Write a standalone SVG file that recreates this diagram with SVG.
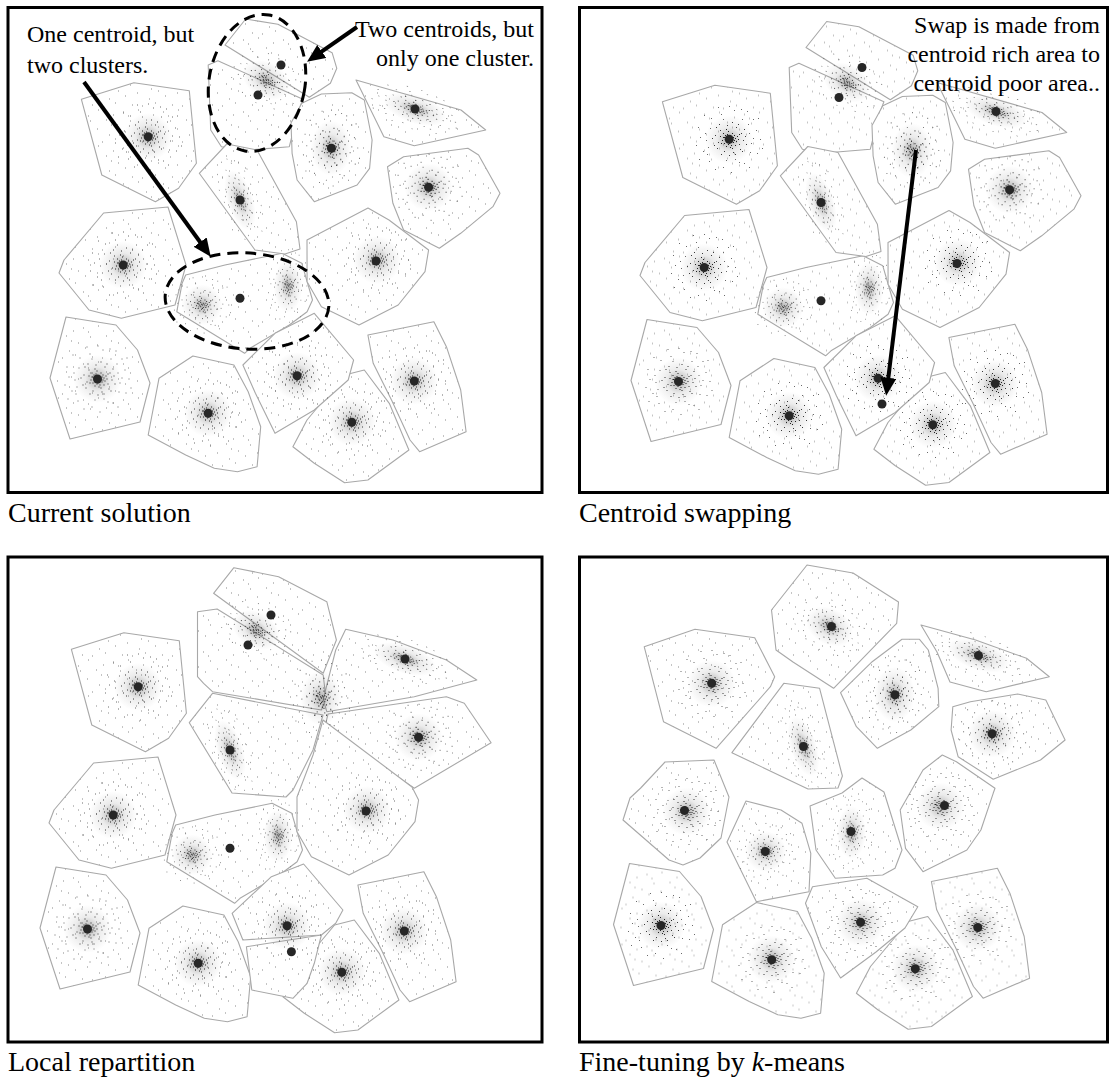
<svg xmlns="http://www.w3.org/2000/svg" xmlns:xlink="http://www.w3.org/1999/xlink" width="1110" height="1079" viewBox="0 0 1110 1079">
<style>
.frame{fill:#fff;stroke:#000;stroke-width:3}
.cell{fill:url(#speckle);stroke:#a8a8a8;stroke-width:1.1;stroke-linejoin:round}
.cen{fill:#262626}
.note{font-family:"Liberation Serif","Times New Roman",serif;font-size:24px;fill:#000}
.cap{font-family:"Liberation Serif","Times New Roman",serif;font-size:28px;fill:#000}
.ring{fill:none;stroke:#000;stroke-width:3;stroke-dasharray:11 7}
.arrow{fill:none;stroke:#000;stroke-width:4;marker-end:url(#head)}
</style>
<defs>
  <!-- sparse background points inside every region -->
  <pattern id="speckle" patternUnits="userSpaceOnUse" width="40" height="36">
    <rect width="40" height="36" fill="#fff"/>
    <path d="M3 4h1M18 2h1M33 7h1M10 13h1M26 12h1M38 19h1M5 24h1M17 21h1M29 27h1M12 33h1M35 31h1M22 34h1M31 17h1M8 8h1" stroke="#8a8a8a" stroke-width="1"/>
  </pattern>
  <radialGradient id="core">
    <stop offset="0" stop-color="#3a3a3a" stop-opacity=".4"/>
    <stop offset=".5" stop-color="#3a3a3a" stop-opacity=".1"/>
    <stop offset="1" stop-color="#3a3a3a" stop-opacity="0"/>
  </radialGradient>
  <marker id="head" markerUnits="userSpaceOnUse" markerWidth="20" markerHeight="16" refX="6" refY="8" orient="auto" viewBox="0 0 20 16">
    <path d="M0,0 L18,8 L0,16 z" fill="#000"/>
  </marker>

  <!-- one gaussian-like cloud of points, centred on 0,0 -->
  <g id="blob">
    <circle r="24" fill="url(#core)"/>
    <path stroke="#222" stroke-width="1.2" d="M1 -2h1M-3 1h1M4 3h1M-2 -5h1M6 -1h1M-5 4h1M2 6h1M-6 -2h1M3 -6h1M0 4h1M-4 -4h1M7 2h1M-1 -8h1M5 -4h1M-7 1h1M2 -1h1M-2 2h1M8 -3h1M-3 7h1M1 8h1M0 0h1M-1 -1h1M3 1h1M-4 -1h1M1 3h1M-2 -3h1M5 1h1M-1 5h1M4 -2h1M-5 -2h1M-8 4h1M9 0h1M-6 -6h1M6 6h1M-9 -3h1M3 9h1M-3 -10h1M10 -5h1"/>
    <path stroke="#3a3a3a" stroke-width="1.1" d="M10 5h1M-11 3h1M12 -6h1M-9 -9h1M4 13h1M-5 12h1M14 1h1M-14 -4h1M7 -12h1M-2 -14h1M11 10h1M-12 9h1M16 -3h1M-15 6h1M9 -15h1M-8 15h1M13 12h1M-13 -12h1M17 5h1M-17 -1h1M0 16h1M3 -17h1M15 -10h1M-10 -15h1M6 15h1"/>
    <path stroke="#6a6a6a" stroke-width="1" d="M22 4h1M-21 8h1M19 -15h1M-24 -6h1M10 23h1M-8 -25h1M27 -9h1M-26 12h1M15 24h1M-18 -21h1M28 14h1M-29 -2h1M5 -29h1M-6 28h1M24 -20h1M-20 22h1M31 0h1M-31 -12h1M12 -30h1M-14 30h1M33 9h1M-33 6h1M20 28h1M-25 -24h1M0 -33h1M2 33h1M29 -21h1M-30 20h1M18 -28h1M-11 -32h1M20 -6h1M-19 -11h1M6 20h1M-3 21h1M21 13h1M-22 15h1M13 -20h1M-6 -20h1M24 -1h1M-23 1h1"/>
  </g>

  <!-- regions of the starting solution (coordinates of the first panel) -->
  <g id="cellsLow">
    <polygon class="cell" points="66,317 116,325 137.5,350 150,383 140,422 70,439 50,378"/>
    <polygon class="cell" points="159,378.3 192.9,356 233.9,365 248.2,391.7 260.7,426.7 257.1,466.7 237.5,471.7 214.3,468.3 185.7,455 148.2,435"/>
    <polygon class="cell" points="292.9,446.7 307,420 344.6,375 364.3,370 389.3,403.3 408.9,450 367.9,480 344.6,482.7 314.3,463.3"/>
    <polygon class="cell" points="367.9,335 433.9,321.7 446.4,346.7 460.7,390 466.1,431.7 419.6,451.7 410,440 392,401 373.2,363.3"/>
  </g>
  <g id="cellsMid">
    <polygon class="cell" points="81.4,99.3 133.9,82.7 189.3,90.7 196.4,163.3 178.6,188.3 155.4,201.7 101.8,175"/>
    <polygon class="cell" points="59,273 64,260 103.6,213 168,207 186,265 175,305 121.4,318.3 89,310"/>
    <polygon class="cell" points="185.7,275 225,265 282.1,253.3 301.8,263.3 312.5,300 307.1,311.7 289.3,325 250,348.3 244.6,353.3 176.8,311.7 182.1,283.3"/>
  </g>
  <g id="cellsTop">
    <polygon class="cell" points="245.7,19 277.9,24.3 332.1,52.7 336.8,68.3 330.4,83.3 309.3,97.3 225,45"/>
    <polygon class="cell" points="208.2,65 217.9,60.7 302.9,99.3 298.2,111.7 289.3,146.7 250,150 221.4,146.7 210.7,130"/>
    <polygon class="cell" points="199.3,173.3 226.8,144 257,150 296.4,221.7 300,249 285,254 255,250"/>
    <polygon class="cell" points="291,123 301.8,103.3 321.4,94 351.8,92.7 364.3,100 372.1,140 369.6,168.3 357.1,185 314.3,201.7 297.1,180 292.1,153.3"/>
    <polygon class="cell" points="356,80 461,110 485.7,130 414.3,145.7 383.9,136.7"/>
    <polygon class="cell" points="387.5,166.7 403.6,156.7 467.9,148.3 478.6,155 500,193.3 492.9,206.7 460.7,233.3 439.3,248.3 403.6,230 392.9,203.3"/>
    <polygon class="cell" points="307,240 368,208 389,220 428.6,250 425,271.7 398.2,305 359,325 321.4,306.7 307.1,281.7"/>
    <polygon class="cell" points="242.9,365 275,333.3 314.3,313.3 353.6,360 348.2,380 314.3,410 275,433.3 255.4,393.3"/>
  </g>

  <!-- the fifteen point clouds -->
  <g id="blobs">
    <use xlink:href="#blob" href="#blob" transform="translate(266 80) rotate(30) scale(1.05 .75)"/>
    <use xlink:href="#blob" href="#blob" transform="translate(148 137)"/>
    <use xlink:href="#blob" href="#blob" transform="translate(123 265)"/>
    <use xlink:href="#blob" href="#blob" transform="translate(240 200) rotate(-18) scale(.55 1.3)"/>
    <use xlink:href="#blob" href="#blob" transform="translate(331 148) scale(.85 1.15)"/>
    <use xlink:href="#blob" href="#blob" transform="translate(415 109) rotate(18) scale(1.35 .6)"/>
    <use xlink:href="#blob" href="#blob" transform="translate(428.6 187.3)"/>
    <use xlink:href="#blob" href="#blob" transform="translate(377 260)"/>
    <use xlink:href="#blob" href="#blob" transform="translate(202 305) scale(.85)"/>
    <use xlink:href="#blob" href="#blob" transform="translate(288 286) scale(.6 1.1)"/>
    <use xlink:href="#blob" href="#blob" transform="translate(97.5 379)"/>
    <use xlink:href="#blob" href="#blob" transform="translate(208 413)"/>
    <use xlink:href="#blob" href="#blob" transform="translate(297 376)"/>
    <use xlink:href="#blob" href="#blob" transform="translate(352 422)"/>
    <use xlink:href="#blob" href="#blob" transform="translate(414 381)"/>
  </g>

  <!-- centroids shared by the first three panels -->
  <g id="censBase" class="cen">
    <circle cx="281" cy="65" r="4.5"/>
    <circle cx="258" cy="95" r="4.5"/>
    <circle cx="148.2" cy="136.7" r="4.5"/>
    <circle cx="123.2" cy="265" r="4.5"/>
    <circle cx="240" cy="200" r="4.5"/>
    <circle cx="415" cy="109" r="4.5"/>
    <circle cx="428.6" cy="187.3" r="4.5"/>
    <circle cx="376" cy="261" r="4.5"/>
    <circle cx="240" cy="298.3" r="4.5"/>
    <circle cx="97.5" cy="379" r="4.5"/>
    <circle cx="208.2" cy="413.3" r="4.5"/>
    <circle cx="297.1" cy="375.7" r="4.5"/>
    <circle cx="351.8" cy="422.3" r="4.5"/>
    <circle cx="414.3" cy="381" r="4.5"/>
  </g>
</defs>

<!-- Panel 1: current solution -->
<g id="panel-current">
  <rect class="frame" x="8" y="7.5" width="534" height="485"/>
  <use xlink:href="#cellsLow" href="#cellsLow"/>
  <use xlink:href="#cellsMid" href="#cellsMid"/>
  <use xlink:href="#cellsTop" href="#cellsTop"/>
  <use xlink:href="#blobs" href="#blobs"/>
  <use xlink:href="#censBase" href="#censBase"/>
  <circle class="cen" cx="331.4" cy="148.3" r="4.5"/>
  <ellipse class="ring" cx="257" cy="83" rx="48" ry="69" transform="rotate(10 257 83)"/>
  <ellipse class="ring" cx="247" cy="301" rx="82" ry="48" transform="rotate(4 247 301)"/>
  <text class="note" x="27" y="42">One centroid, but</text>
  <text class="note" x="27" y="73">two clusters.</text>
  <text class="note" x="534" y="37" text-anchor="end">Two centroids, but</text>
  <text class="note" x="534" y="66" text-anchor="end">only one cluster.</text>
  <g id="connectors-current">
    <path class="arrow" d="M84 82 L203.7 247"/>
    <path class="arrow" d="M357 27 L316.9 54.9"/>
  </g>
  <text class="cap" x="8" y="522">Current solution</text>
</g>

<!-- Panel 2: centroid swapping -->
<g id="panel-swap">
  <rect class="frame" x="579.5" y="7.5" width="528" height="485"/>
  <g transform="translate(581 2.5)">
    <use xlink:href="#cellsLow" href="#cellsLow"/>
    <use xlink:href="#cellsMid" href="#cellsMid"/>
    <use xlink:href="#cellsTop" href="#cellsTop"/>
    <use xlink:href="#blobs" href="#blobs"/>
    <use xlink:href="#censBase" href="#censBase"/>
    <circle class="cen" cx="301" cy="401.5" r="4.5"/>
  </g>
  <text class="note" x="1100" y="33" text-anchor="end">Swap is made from</text>
  <text class="note" x="1100" y="62" text-anchor="end">centroid rich area to</text>
  <text class="note" x="1100" y="91" text-anchor="end">centroid poor area..</text>
  <g id="connectors-swap">
    <path class="arrow" d="M916 150 L887.6 383.8"/>
  </g>
  <text class="cap" x="579" y="522">Centroid swapping</text>
</g>

<!-- Panel 3: local repartition -->
<g id="panel-repartition">
  <rect class="frame" x="8" y="557" width="534" height="485"/>
  <g transform="translate(-10 550)">
    <use xlink:href="#cellsLow" href="#cellsLow"/>
    <use xlink:href="#cellsMid" href="#cellsMid"/>
  </g>
  <polygon class="cell" points="233.9,567.7 278.6,576.7 326.8,601.7 336.4,640 323.2,673.3 213.6,593.3"/>
  <polygon class="cell" points="197.5,611.7 217.1,609 323.2,675 326,699 321.4,710 212.5,691.7 203.6,683.3 197.5,676.7"/>
  <polygon class="cell" points="189.3,722.7 212.5,693.3 323,715 313,750 293,790 286,797 232,793"/>
  <polygon class="cell" points="345.7,629.3 392.9,640 446.4,660 476.8,680 414.3,696.7 326.8,711.7 323.2,699.3 335.7,650"/>
  <polygon class="cell" points="328,714 446.4,696.7 464.3,703.3 491.1,742.7 414.3,788.3 325,726.7"/>
  <polygon class="cell" points="323,720 412,787 418.6,800 415,821.7 388.2,855 349,875 311.4,856.7 297,831.7 297,797 313,755"/>
  <polygon class="cell" points="232.1,913.3 271.4,876.7 303.6,864 342.9,910 335.7,923.3 321.4,935 242.9,940"/>
  <polygon class="cell" points="246.4,946.7 321.4,935 314.3,963.3 307.1,983.3 292.9,998.3 251.8,990"/>
  <g transform="translate(-10 550)">
    <use xlink:href="#blobs" href="#blobs"/>
    <use xlink:href="#censBase" href="#censBase"/>
    <circle class="cen" cx="301.4" cy="401.7" r="4.5"/>
  </g>
  <text class="cap" x="8" y="1071">Local repartition</text>
</g>

<!-- Panel 4: fine-tuning by k-means -->
<g id="panel-kmeans">
  <rect class="frame" x="579.5" y="557" width="528" height="485"/>
  <g transform="translate(563.5 546.5)">
    <use xlink:href="#cellsLow" href="#cellsLow"/>
  </g>
  <polygon class="cell" points="807,565 853,573 898.5,602 896.7,623.3 833.6,688.3 793,662 776,650 771.5,610"/>
  <polygon class="cell" points="644.2,646.7 695,629.3 754.7,637.7 774.7,676.7 770.4,686.7 716.1,748.3 663.5,721.7"/>
  <polygon class="cell" points="731.9,752.7 783.8,683.3 819.6,688.3 842.4,776 838,788 808,789"/>
  <polygon class="cell" points="840.6,692.7 872.2,661.7 902,639.3 919.5,639.3 928.3,650 938.1,688.3 938.8,706.7 910.8,730 877.4,748.3 856.4,726.7"/>
  <polygon class="cell" points="921,625 975.6,640 1026.5,658.3 1049.3,676.7 986.2,691.7 950,682 937,652"/>
  <polygon class="cell" points="952.8,706.7 970.4,701.7 1017.7,694 1045.8,700 1065.1,740 1040.5,760 993.2,779.3 958.1,756.7 951.1,730"/>
  <polygon class="cell" points="640.7,788 665,762 714,760 729,797 721,838 700,858 683,865 669,860 623,820 630,798"/>
  <polygon class="cell" points="727,842 746,801 781,810 802,823.3 810.8,853.3 809,891.7 756.4,901.7"/>
  <polygon class="cell" points="810,806 842,793 862,778 884,792 902,850 895,868.3 882.7,875 835.3,878.3 816,850"/>
  <polygon class="cell" points="923,770 942.3,755 956.4,761.7 995,788.3 993.2,793.3 980.9,830 966.9,850 923,871.7 905.5,848.3 900.2,810"/>
  <polygon class="cell" points="805.5,903.3 812.5,886.7 866.9,878.3 917.8,906.7 905,928 876,952 840.6,978 821.3,946.7"/>
  <g transform="translate(563.5 546.5)">
    <use xlink:href="#blobs" href="#blobs"/>
    <g class="cen">
      <circle cx="268" cy="80" r="4.5"/>
      <circle cx="148.2" cy="136.7" r="4.5"/>
      <circle cx="121" cy="264" r="4.5"/>
      <circle cx="240" cy="200" r="4.5"/>
      <circle cx="331.4" cy="148.3" r="4.5"/>
      <circle cx="415" cy="109" r="4.5"/>
      <circle cx="428.6" cy="187.3" r="4.5"/>
      <circle cx="381" cy="259" r="4.5"/>
      <circle cx="201.8" cy="305" r="4.5"/>
      <circle cx="287.5" cy="285" r="4.5"/>
      <circle cx="97.5" cy="379" r="4.5"/>
      <circle cx="208.2" cy="413.3" r="4.5"/>
      <circle cx="297.1" cy="375.7" r="4.5"/>
      <circle cx="351.8" cy="422.3" r="4.5"/>
      <circle cx="414.3" cy="381" r="4.5"/>
    </g>
  </g>
  <text class="cap" x="579" y="1071">Fine-tuning by <tspan font-style="italic">k</tspan>-means</text>
</g>
</svg>
